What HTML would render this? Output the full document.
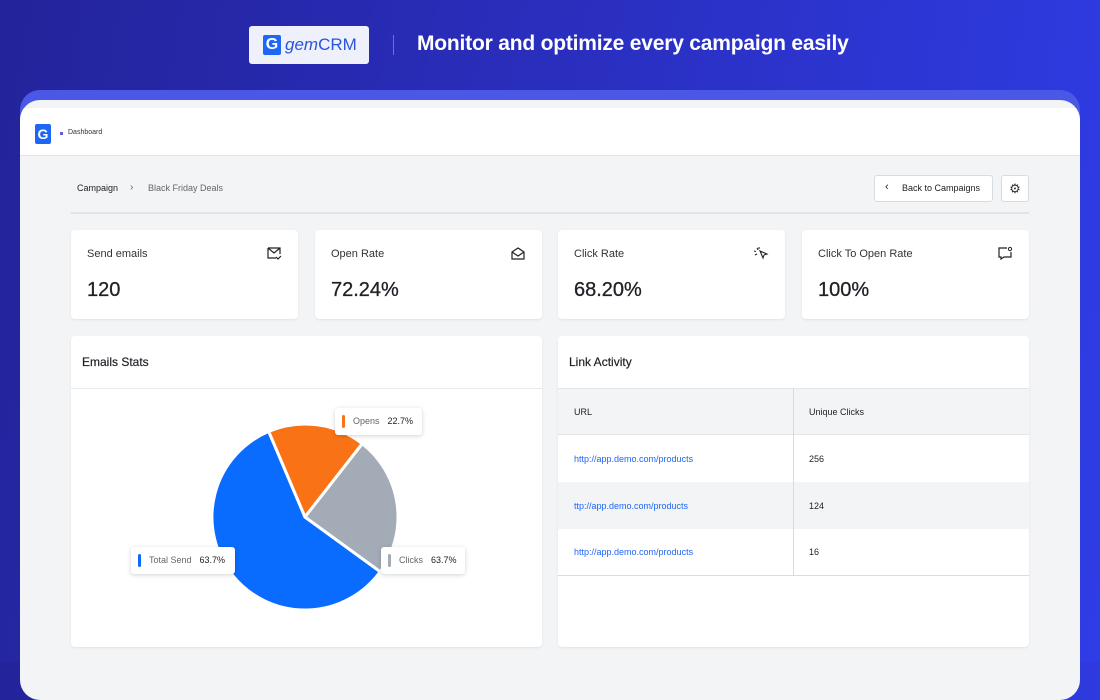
<!DOCTYPE html>
<html><head><meta charset="utf-8"><style>
*{margin:0;padding:0;box-sizing:border-box}
body{width:1100px;height:662px;overflow:hidden;font-family:"Liberation Sans",sans-serif;background:linear-gradient(100deg,#23239a 0%,#2a2fc0 50%,#2f3de6 100%);position:relative}
.a{position:absolute}
.card{position:absolute;background:#fff;border-radius:4px;box-shadow:0 1px 2px rgba(0,0,0,.08)}
.lbl{position:absolute;left:16px;top:18px;font-size:11px;color:#333}
.val{position:absolute;left:16px;top:49px;font-size:20px;color:#1f2126;-webkit-text-stroke:0.3px #1f2126}
.ic{position:absolute;right:16px;top:16px}
.tip{position:absolute;background:#fff;border-radius:3px;box-shadow:0 1px 5px rgba(0,0,0,.18);font-size:9px;color:#666;height:27px;line-height:27px;padding-left:18px}
.tip i{position:absolute;left:7px;top:7px;width:3px;height:13px;border-radius:2px}
.tip b{color:#222;font-weight:normal;margin-left:8px}
.td{position:absolute;font-size:9px}
</style></head><body>
<div class="a" style="left:249px;top:26px;width:120px;height:38px;background:#eef1fb;border-radius:3px"></div>
<div class="a" style="left:263px;top:35px;width:18px;height:20px;background:#1e66f5;border-radius:2px;color:#fff;font-weight:bold;font-size:16px;line-height:20px;text-align:center">G</div>
<div class="a" style="left:285px;top:35px;font-size:17px;color:#2a55d8;font-style:italic">gem<span style="font-style:normal">CRM</span></div>
<div class="a" style="left:393px;top:35px;width:1px;height:20px;background:#6a70d8"></div>
<div class="a" style="left:417px;top:32px;font-size:21px;color:#fff;font-weight:bold;letter-spacing:-0.2px">Monitor and optimize every campaign easily</div>
<div class="a" style="left:20px;top:90px;width:1060px;height:600px;background:#4b58e6;border-radius:20px"></div>
<div class="a" style="left:20px;top:100px;width:1060px;height:600px;background:#f3f4f6;border-radius:20px;overflow:hidden">
<div class="a" style="left:0;top:8px;width:1060px;height:48px;background:#fff;border-bottom:1px solid #e2e4e8"></div>
</div>
<div class="a" style="left:35px;top:124px;width:16px;height:20px;background:#1e66f5;border-radius:2px;color:#fff;font-weight:bold;font-size:14px;line-height:20px;text-align:center">G</div>
<div class="a" style="left:60px;top:132px;width:3px;height:3px;background:#5b5fe0"></div>
<div class="a" style="left:68px;top:129px;font-size:7px;color:#333">Dashboard</div>
<div class="a" style="left:77px;top:183px;font-size:9px;color:#222">Campaign</div>
<div class="a" style="left:130px;top:182px;font-size:10px;color:#666">›</div>
<div class="a" style="left:148px;top:183px;font-size:9px;color:#666">Black Friday Deals</div>
<div class="a" style="left:874px;top:175px;width:119px;height:27px;background:#fff;border:1px solid #d8dbe0;border-radius:3px;font-size:9px;color:#222;line-height:25px;padding-left:27px">Back to Campaigns</div>
<div class="a" style="left:885px;top:181px;font-size:11px;color:#222">‹</div>
<div class="a" style="left:1001px;top:175px;width:28px;height:27px;background:#fff;border:1px solid #d8dbe0;border-radius:3px;text-align:center;line-height:25px;font-size:13px;color:#333">⚙</div>
<div class="a" style="left:71px;top:212px;width:958px;height:2px;background:#e0e3e7"></div>

<div class="card" style="left:71px;top:230px;width:227px;height:89px"><div class="lbl">Send emails</div><div class="val">120</div>
<svg class="ic" width="16" height="14" viewBox="0 0 16 14"><path d="M2 2h12v6M14 8v-6M2 2v10h8M2 2l6 5 6-5M10 11l2 2 3-3" fill="none" stroke="#222" stroke-width="1.2"/></svg></div>
<div class="card" style="left:315px;top:230px;width:227px;height:89px"><div class="lbl">Open Rate</div><div class="val">72.24%</div>
<svg class="ic" width="16" height="14" viewBox="0 0 16 14"><path d="M2 6l6-4 6 4v7H2zM2 6l6 4 6-4" fill="none" stroke="#222" stroke-width="1.2"/></svg></div>
<div class="card" style="left:558px;top:230px;width:227px;height:89px"><div class="lbl">Click Rate</div><div class="val">68.20%</div>
<svg class="ic" width="16" height="14" viewBox="0 0 16 14"><path d="M7 5l7 3-3 1-1 3zM4 2l1 2M1 5l2 .5M6 1v2M2 9l2-1" fill="none" stroke="#222" stroke-width="1.1"/></svg></div>
<div class="card" style="left:802px;top:230px;width:227px;height:89px"><div class="lbl">Click To Open Rate</div><div class="val">100%</div>
<svg class="ic" width="16" height="14" viewBox="0 0 16 14"><path d="M10 2H2v9h2v2l3-2h7V6" fill="none" stroke="#222" stroke-width="1.2"/><circle cx="13" cy="3" r="1.6" fill="none" stroke="#222"/></svg></div>

<div class="card" style="left:71px;top:336px;width:471px;height:311px">
<div class="a" style="left:11px;top:19px;font-size:12px;color:#1f2126;-webkit-text-stroke:0.2px #1f2126">Emails Stats</div>
<div class="a" style="left:0;top:52px;width:471px;height:1px;background:#e8eaed"></div>
</div>
<svg class="a" style="left:0;top:0" width="1100" height="662">
<g stroke="#fff" stroke-width="3" stroke-linejoin="round">
<path d="M305 517 L380.2 571.7 A93 93 0 1 1 268.7 431.4 Z" fill="#0a6cff"/>
<path d="M305 517 L268.7 431.4 A93 93 0 0 1 362.3 443.7 Z" fill="#f97316"/>
<path d="M305 517 L362.3 443.7 A93 93 0 0 1 380.2 571.7 Z" fill="#a3acb6"/>
</g></svg>
<div class="tip" style="left:335px;top:408px;width:87px"><i style="background:#f97316"></i>Opens<b>22.7%</b></div>
<div class="tip" style="left:131px;top:547px;width:104px"><i style="background:#0a6cff"></i>Total Send<b>63.7%</b></div>
<div class="tip" style="left:381px;top:547px;width:84px"><i style="background:#a3acb6"></i>Clicks<b>63.7%</b></div>

<div class="card" style="left:558px;top:336px;width:471px;height:311px;overflow:hidden">
<div class="a" style="left:11px;top:19px;font-size:12px;color:#1f2126;-webkit-text-stroke:0.2px #1f2126">Link Activity</div>
<div class="a" style="left:0;top:52px;width:471px;height:47px;background:#f3f4f6;border-top:1px solid #e3e5e8;border-bottom:1px solid #e3e5e8"></div>
<div class="a" style="left:0;top:146px;width:471px;height:47px;background:#f3f4f6"></div>
<div class="a" style="left:0;top:239px;width:471px;height:1px;background:#d8dbe0"></div>
<div class="a" style="left:235px;top:52px;width:1px;height:188px;background:#d8dbe0"></div>
<div class="td" style="left:16px;top:71px;color:#222">URL</div>
<div class="td" style="left:251px;top:71px;color:#222">Unique Clicks</div>
<div class="td" style="left:16px;top:118px;color:#1e66f5">http://app.demo.com/products</div>
<div class="td" style="left:251px;top:118px;color:#222">256</div>
<div class="td" style="left:16px;top:165px;color:#1e66f5">ttp://app.demo.com/products</div>
<div class="td" style="left:251px;top:165px;color:#222">124</div>
<div class="td" style="left:16px;top:211px;color:#1e66f5">http://app.demo.com/products</div>
<div class="td" style="left:251px;top:211px;color:#222">16</div>
</div>
</body></html>
